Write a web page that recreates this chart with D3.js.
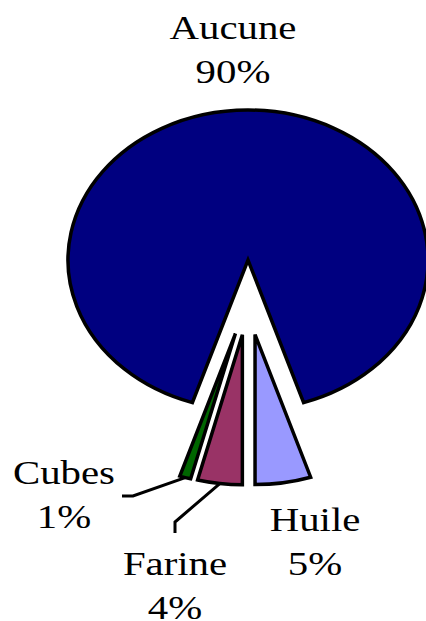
<!DOCTYPE html>
<html>
<head>
<meta charset="utf-8">
<script src="https://cdn.jsdelivr.net/npm/d3@7"></script>
</head>
<body style="margin:0">
<svg id="chart" width="426" height="621"></svg>
<script>
// data
const categories = ["Aucune", "Huile", "Farine", "Cubes"];
const values = [90, 5, 4, 1];
const colors = ["#000080", "#9999ff", "#993366", "#006600"];

const svg = d3.select("#chart");

// 1. Pie geometry (the source image is squashed vertically)
const cx = 248, cy = 297.5;
const radius = 180;
const squash = 150 / 180;
const explode = 45;
const startDeg = 198;

const pie = d3.pie()
  .sort(null)
  .value(d => d)
  .startAngle(startDeg * Math.PI / 180)
  .endAngle((startDeg + 360) * Math.PI / 180);

const arc = d3.arc().innerRadius(0).outerRadius(radius);
const arcs = pie(values);

// offset of an exploded slice, in circle space
function shift(a) {
  const mid = (a.startAngle + a.endAngle) / 2;
  return [explode * Math.sin(mid), -explode * Math.cos(mid)];
}
// circle space -> screen
function toScreen(p) {
  return [cx + p[0], cy + p[1] * squash];
}

const pieG = svg.append("g")
  .attr("transform", `translate(${cx},${cy}) scale(1,${squash})`);

pieG.selectAll("path")
  .data(arcs)
  .join("path")
  .attr("transform", d => `translate(${shift(d)[0]},${shift(d)[1]})`)
  .attr("d", arc)
  .attr("fill", (d, i) => colors[i])
  .attr("stroke", "#000")
  .attr("stroke-width", 3.5)
  .attr("stroke-linejoin", "miter")
  .attr("vector-effect", "non-scaling-stroke");

// 2. Labels (stretched sideways like the source)
const labelPos = {
  Aucune: [233, 39],
  Huile: [315, 531],
  Farine: [175, 575],
  Cubes: [64, 484]
};
const lineGap = 44;

categories.forEach((c, i) => {
  const [lx, ly] = labelPos[c];
  const g = svg.append("g").attr("transform", `translate(${lx},${ly}) scale(1.2,1)`);
  [c, values[i] + "%"].forEach((t, j) => {
    g.append("text")
      .attr("y", j * lineGap)
      .attr("text-anchor", "middle")
      .style("font-family", "Tinos, 'Liberation Serif', 'Times New Roman', 'Noto Serif', serif")
      .style("font-size", "34px")
      .text(t);
  });
});

// 3. Leader lines for the small slices
const leaders = {
  Cubes: [[133, 496], [122, 496]],
  Farine: [[175, 522], [175, 533]]
};
arcs.forEach((a, i) => {
  const c = categories[i];
  if (!leaders[c]) return;
  const mid = (a.startAngle + a.endAngle) / 2;
  const s = shift(a);
  const start = toScreen([s[0] + radius * Math.sin(mid), s[1] - radius * Math.cos(mid)]);
  svg.append("path")
    .attr("d", d3.line()([start, ...leaders[c]]))
    .attr("fill", "none")
    .attr("stroke", "#000")
    .attr("stroke-width", 3);
});
</script>
</body>
</html>
